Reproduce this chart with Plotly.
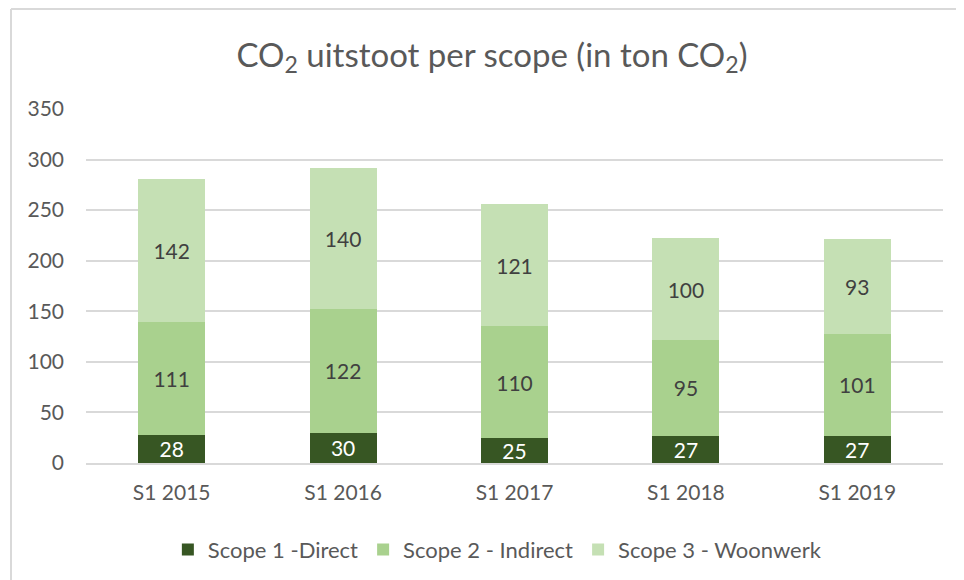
import plotly.graph_objects as go

categories = ["S1 2015", "S1 2016", "S1 2017", "S1 2018", "S1 2019"]
scope1 = [28, 30, 25, 27, 27]
scope2 = [111, 122, 110, 95, 101]
scope3 = [142, 140, 121, 100, 93]
series_names = ["Scope 1 -Direct", "Scope 2 - Indirect", "Scope 3 - Woonwerk"]
y_ticks = [0, 50, 100, 150, 200, 250, 300, 350]

FONT = "Lato, Calibri, sans-serif"
colors = ["#375623", "#A9D18E", "#C5E0B4"]
text_colors = ["#FFFFFF", "#404040", "#404040"]

fig = go.Figure()
for name, vals, c, tc in zip(series_names, [scope1, scope2, scope3], colors, text_colors):
    fig.add_trace(go.Bar(
        x=categories, y=vals, name=name,
        marker=dict(color=c, line=dict(width=0)),
        text=vals, textposition="inside", insidetextanchor="middle", textangle=0,
        textfont=dict(family=FONT, size=21, color=tc),
        constraintext="none",
    ))

# the page body adds an 8px offset; margins compensate so the plot area lands where the reference has it
fig.update_layout(
    barmode="stack",
    bargap=0.61,
    width=964, height=580,
    margin=dict(l=78, r=29, t=101, b=125),
    paper_bgcolor="white", plot_bgcolor="white",
    font=dict(family=FONT, color="#595959"),
    title=dict(text="CO<sub>2</sub> uitstoot per scope (in ton CO<sub>2</sub>)",
               x=0.502, xanchor="center",
               y=1 - 47 / 580, yanchor="middle",
               font=dict(family=FONT, size=33, color="#595959")),
    legend=dict(orientation="h", x=0.48, xanchor="center", y=-0.245, yanchor="middle",
                font=dict(family=FONT, size=22, color="#595959"),
                traceorder="normal", itemwidth=30),
    showlegend=True,
)
fig.update_xaxes(showgrid=False, showline=True, linecolor="#D9D9D9", linewidth=1.5,
                 ticks="", tickfont=dict(family=FONT, size=21, color="#595959"),
                 ticklabelstandoff=10)
fig.update_yaxes(range=[0, 350], tickvals=y_ticks, showgrid=True, gridcolor="#D9D9D9",
                 gridwidth=1.5, zeroline=False, showline=False, ticks="",
                 tickfont=dict(family=FONT, size=21, color="#595959"),
                 ticklabelstandoff=21)
# chart border (top and left edges visible)
fig.add_shape(type="line", xref="paper", yref="paper", x0=-0.0875, x1=1.1, y0=1.2825, y1=1.2825,
              line=dict(color="#D9D9D9", width=2))
fig.add_shape(type="line", xref="paper", yref="paper", x0=-0.0875, x1=-0.0875, y0=1.2825, y1=-0.4,
              line=dict(color="#D9D9D9", width=2))

fig.write_html("out.html")
